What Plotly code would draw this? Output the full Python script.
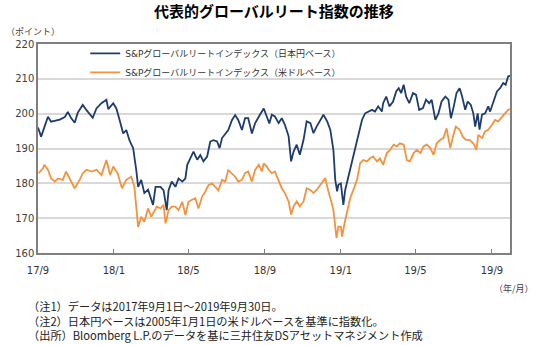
import plotly.graph_objects as go

jpy_dates = ["2017-09-01","2017-09-06","2017-09-11","2017-09-17","2017-09-22","2017-09-28","2017-10-06","2017-10-14","2017-10-19","2017-10-24",
"2017-10-30","2017-11-04","2017-11-12","2017-11-18","2017-11-23","2017-11-28","2017-12-04","2017-12-12","2017-12-20","2017-12-23",
"2017-12-31","2018-01-05","2018-01-10","2018-01-16","2018-01-21","2018-01-26","2018-02-01","2018-02-03","2018-02-06","2018-02-09",
"2018-02-14","2018-02-19","2018-02-25","2018-03-05","2018-03-09","2018-03-11","2018-03-17","2018-03-22","2018-03-27","2018-03-30",
"2018-04-04","2018-04-10","2018-04-15","2018-04-21","2018-04-26","2018-04-29","2018-05-04","2018-05-09","2018-05-15","2018-05-20",
"2018-05-25","2018-05-31","2018-06-05","2018-06-10","2018-06-16","2018-06-20","2018-06-24","2018-06-29","2018-07-04","2018-07-10",
"2018-07-15","2018-07-20","2018-07-26","2018-07-31","2018-08-05","2018-08-11","2018-08-16","2018-08-22","2018-08-30","2018-09-04",
"2018-09-08","2018-09-12","2018-09-17","2018-09-23","2018-09-28","2018-10-03","2018-10-09","2018-10-13","2018-10-17","2018-10-22",
"2018-10-27","2018-11-02","2018-11-07","2018-11-13","2018-11-18","2018-11-23","2018-11-29","2018-12-04","2018-12-10","2018-12-15",
"2018-12-20","2018-12-23","2018-12-26","2018-12-28","2019-01-01","2019-01-05","2019-01-08","2019-01-13","2019-01-19","2019-01-24",
"2019-01-29","2019-02-04","2019-02-09","2019-02-14","2019-02-20","2019-02-25","2019-03-02","2019-03-08","2019-03-10","2019-03-15",
"2019-03-20","2019-03-26","2019-03-31","2019-04-04","2019-04-08","2019-04-12","2019-04-16","2019-04-21","2019-04-27","2019-05-02",
"2019-05-07","2019-05-13","2019-05-18","2019-05-23","2019-05-27","2019-06-02","2019-06-07","2019-06-12","2019-06-18","2019-06-23",
"2019-06-27","2019-07-01","2019-07-06","2019-07-11","2019-07-15","2019-07-20","2019-07-24","2019-07-29","2019-08-02","2019-08-05",
"2019-08-09","2019-08-12","2019-08-16","2019-08-21","2019-08-26","2019-08-29","2019-09-03","2019-09-09","2019-09-14","2019-09-19",
"2019-09-23","2019-09-27","2019-09-30"]
jpy_values = [196.0,193.4,196.0,199.1,197.7,198.0,198.3,199.0,200.5,198.8,
197.4,200.3,202.5,201.0,200.0,198.8,201.5,203.0,204.0,201.3,
203.0,201.5,198.3,194.3,195.3,192.4,190.1,187.9,183.8,179.0,
181.0,177.2,178.2,173.8,179.0,179.0,179.0,178.0,172.3,178.0,
180.5,179.0,181.4,180.5,181.4,185.3,187.2,189.1,186.8,188.1,
186.3,187.7,192.0,192.4,192.0,190.1,193.0,194.3,195.3,198.2,
199.6,198.2,195.3,198.7,198.7,194.3,197.2,199.1,201.5,199.1,
197.2,199.7,199.2,197.3,198.7,196.8,193.5,186.3,189.1,191.1,
188.2,192.5,197.8,197.3,194.4,196.3,198.2,199.7,197.8,195.4,
189.6,181.0,177.7,179.6,180.0,173.8,178.1,182.0,185.8,190.1,
194.4,198.2,200.1,200.6,201.1,200.6,202.1,200.6,203.0,204.9,
202.1,203.5,206.4,207.3,205.9,208.3,204.9,203.0,205.9,205.4,
201.1,201.6,204.0,203.0,204.0,198.2,200.1,203.5,204.9,204.0,
198.7,201.6,205.9,207.3,204.9,201.1,203.5,202.5,200.1,196.3,
200.1,195.4,199.7,200.1,202.1,200.6,203.0,206.4,207.3,208.8,
208.3,210.7,210.9]

usd_dates = ["2017-09-02","2017-09-09","2017-09-11","2017-09-17","2017-09-22","2017-09-28","2017-10-03","2017-10-11","2017-10-16","2017-10-22",
"2017-10-30","2017-11-07","2017-11-12","2017-11-18","2017-11-26","2017-12-04","2017-12-12","2017-12-20","2017-12-26","2017-12-31",
"2018-01-07","2018-01-14","2018-01-21","2018-01-29","2018-02-03","2018-02-09","2018-02-14","2018-02-19","2018-02-25","2018-03-02",
"2018-03-09","2018-03-11","2018-03-17","2018-03-22","2018-03-25","2018-03-30","2018-04-04","2018-04-10","2018-04-15","2018-04-21",
"2018-04-26","2018-05-01","2018-05-06","2018-05-12","2018-05-17","2018-05-23","2018-05-28","2018-06-02","2018-06-08","2018-06-13",
"2018-06-18","2018-06-24","2018-06-29","2018-07-04","2018-07-10","2018-07-15","2018-07-20","2018-07-26","2018-07-31","2018-08-05",
"2018-08-11","2018-08-16","2018-08-22","2018-08-27","2018-08-30","2018-09-04","2018-09-07","2018-09-12","2018-09-17","2018-09-23",
"2018-09-28","2018-10-03","2018-10-09","2018-10-13","2018-10-17","2018-10-22","2018-10-27","2018-11-02","2018-11-07","2018-11-13",
"2018-11-18","2018-11-23","2018-11-29","2018-12-04","2018-12-07","2018-12-10","2018-12-15","2018-12-20","2018-12-25","2018-12-28",
"2019-01-01","2019-01-03","2019-01-07","2019-01-11","2019-01-16","2019-01-21","2019-01-27","2019-02-01","2019-02-06","2019-02-12",
"2019-02-17","2019-02-22","2019-02-28","2019-03-05","2019-03-10","2019-03-16","2019-03-21","2019-03-27","2019-04-01","2019-04-06",
"2019-04-12","2019-04-17","2019-04-22","2019-04-28","2019-05-03","2019-05-09","2019-05-14","2019-05-19","2019-05-25","2019-05-30",
"2019-06-04","2019-06-10","2019-06-15","2019-06-20","2019-06-26","2019-07-01","2019-07-05","2019-07-11","2019-07-16","2019-07-21",
"2019-07-27","2019-08-02","2019-08-07","2019-08-10","2019-08-16","2019-08-21","2019-08-26","2019-09-01","2019-09-06","2019-09-11",
"2019-09-17","2019-09-22","2019-09-27","2019-09-30"]
usd_values = [182.9,184.3,185.3,183.9,181.4,180.5,181.4,181.0,183.4,181.4,
178.6,181.0,182.9,183.9,183.4,183.9,182.4,186.7,182.4,184.8,
182.9,178.6,181.0,181.9,179.0,167.5,170.4,169.0,172.8,170.4,
172.8,173.3,172.8,173.8,168.5,172.3,173.3,173.3,172.3,174.7,
170.9,174.7,175.2,175.7,172.8,176.2,177.6,179.5,180.0,179.0,
178.0,181.0,180.5,183.8,182.9,181.9,180.5,181.0,182.9,183.4,
180.5,183.8,185.3,183.4,185.7,184.8,183.9,182.9,183.4,181.0,
178.6,177.2,174.8,171.0,173.4,174.8,173.4,174.8,178.6,178.1,
177.2,178.1,179.6,181.0,181.5,179.1,175.3,172.4,164.3,167.6,
167.6,164.7,168.6,171.4,175.7,178.1,181.0,185.8,186.7,186.3,
187.2,187.7,186.3,187.2,185.3,188.7,189.6,191.1,190.6,191.5,
191.1,186.7,186.3,188.7,189.6,188.7,190.6,191.1,190.1,188.2,
191.5,192.5,193.0,195.8,190.1,193.9,196.3,195.4,193.4,192.5,
192.5,191.5,189.6,193.9,193.0,194.9,195.4,196.8,198.2,197.8,
199.2,200.1,201.1,201.3]

series_names = ["S&Pグローバルリートインデックス（日本円ベース）", "S&Pグローバルリートインデックス（米ドルベース）"]
tick_dates = ["2017-09-01","2018-01-01","2018-05-01","2018-09-01","2019-01-01","2019-05-01","2019-09-01"]
tick_labels = ["17/9","18/1","18/5","18/9","19/1","19/5","19/9"]
y_ticks = [160,170,180,190,200,210,220]

title_text = "代表的グローバルリート指数の推移"
y_unit = "（ポイント）"
x_unit = "（年/月）"
notes = ["（注1）データは2017年9月1日～2019年9月30日。",
         "（注2）日本円ベースは2005年1月1日の米ドルベースを基準に指数化。",
         "（出所）Bloomberg L.P.のデータを基に三井住友DSアセットマネジメント作成"]

JP = "Noto Sans CJK JP"
NUM = "Verdana, DejaVu Sans, Noto Sans CJK JP"

fig = go.Figure()
fig.add_trace(go.Scatter(x=jpy_dates, y=jpy_values, mode="lines", name=series_names[0],
                         line=dict(color="#1f3c6e", width=1.8)))
fig.add_trace(go.Scatter(x=usd_dates, y=usd_values, mode="lines", name=series_names[1],
                         line=dict(color="#f5923e", width=1.8)))

fig.update_layout(
    width=539, height=345,
    margin=dict(l=38, r=29, t=44, b=92),
    paper_bgcolor="white", plot_bgcolor="white",
    showlegend=True,
    legend=dict(x=0.10, y=1.025, xanchor="left", yanchor="top",
                font=dict(family=NUM, size=9, color="#333333"),
                bgcolor="rgba(255,255,255,0)", borderwidth=0,
                tracegroupgap=0, itemwidth=30),
    font=dict(family=NUM, color="#404040"),
)
fig.update_xaxes(
    type="date", range=["2017-09-01", "2019-09-30"],
    tickvals=tick_dates, ticktext=tick_labels,
    tickfont=dict(family=NUM, size=10, color="#333333"),
    ticks="inside", ticklen=4, tickcolor="#7f7f7f", tickwidth=1,
    ticklabelstandoff=7,
    showgrid=False, showline=True, linecolor="#7f7f7f", linewidth=1.5, mirror=True,
    zeroline=False,
)
fig.update_yaxes(
    range=[160, 220], tickvals=y_ticks,
    tickfont=dict(family=NUM, size=10, color="#404040"),
    ticks="", showgrid=True, gridcolor="#d9d9d9", gridwidth=1.5,
    showline=True, linecolor="#7f7f7f", linewidth=1.5, mirror=True,
    zeroline=False,
)

fig.add_annotation(text="<b>" + title_text + "</b>", xref="paper", yref="paper",
                   x=0.5, xanchor="center", y=1.0, yanchor="bottom", yshift=21,
                   showarrow=False, font=dict(family=JP, size=15, color="#000000"))
fig.add_annotation(text=y_unit, xref="paper", yref="paper",
                   x=0, xanchor="left", xshift=-34, y=1.0, yanchor="bottom", yshift=4,
                   showarrow=False, font=dict(family=JP, size=9, color="#404040"))
fig.add_annotation(text=x_unit, xref="paper", yref="paper",
                   x=1.0, xanchor="right", xshift=26, y=0, yanchor="top", yshift=-27,
                   showarrow=False, font=dict(family=JP, size=9, color="#404040"))
fig.add_annotation(text="<br>".join(notes), xref="paper", yref="paper",
                   x=0, xanchor="left", xshift=-12, y=0, yanchor="top", yshift=-43,
                   align="left", showarrow=False,
                   font=dict(family=JP, size=11.2, color="#222222"))

fig.write_html("out.html")
